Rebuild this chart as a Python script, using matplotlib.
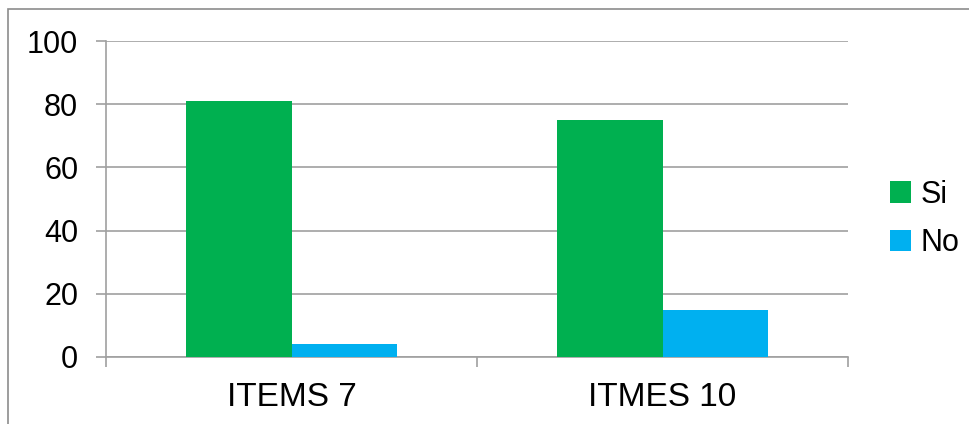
import matplotlib
matplotlib.use('Agg')
import matplotlib.pyplot as plt
import numpy as np
from matplotlib.patches import Rectangle

categories = ['ITEMS 7', 'ITMES 10']
si_values = [81, 75]
no_values = [4, 15]
series_names = ['Si', 'No']
y_ticks = [0, 20, 40, 60, 80, 100]

plt.rcParams['font.family'] = ['Liberation Sans', 'DejaVu Sans']

W, H = 969, 424
fig = plt.figure(figsize=(W / 100, H / 100), dpi=100)

# outer chart border (partly cut off on the right and bottom)
fig.patches.append(Rectangle((8 / W, -0.05), 1.1, 1 - 9 / H + 0.05,
                             transform=fig.transFigure, fill=False,
                             edgecolor='#8c8c8c', linewidth=1.2))

ax = fig.add_axes([106 / W, (H - 357) / H, (848 - 106) / W, (357 - 41) / H])

x = np.arange(len(categories))
width = 0.284
ax.bar(x - width / 2, si_values, width, color='#00B050', label=series_names[0], zorder=3)
ax.bar(x + width / 2, no_values, width, color='#00B0F0', label=series_names[1], zorder=3)

ax.set_xlim(-0.5, len(categories) - 0.5)
ax.set_ylim(0, 100)
ax.set_yticks(y_ticks)
ax.yaxis.grid(True, color='#a0a0a0', linewidth=1.2, zorder=0)

for side in ('top', 'right'):
    ax.spines[side].set_visible(False)
for side in ('left', 'bottom'):
    ax.spines[side].set_color('#a0a0a0')
    ax.spines[side].set_linewidth(1.2)

ax.set_xticks(x)
ax.set_xticklabels(categories)
ax.set_xticks([-0.5, 0.5, 1.5], minor=True)
ax.tick_params(axis='x', which='major', length=0, pad=18, labelsize=24)
ax.tick_params(axis='x', which='minor', length=7, width=1.2, color='#a0a0a0', direction='out')
ax.tick_params(axis='y', length=7, width=1.2, color='#a0a0a0', pad=13, labelsize=22)

ax.legend(loc='center left', bbox_to_anchor=(1.019, 0.437), frameon=False,
          fontsize=22, handlelength=0.7, handleheight=0.7, handletextpad=0.3,
          labelspacing=0.6)

fig.savefig('out.png', dpi=100)
